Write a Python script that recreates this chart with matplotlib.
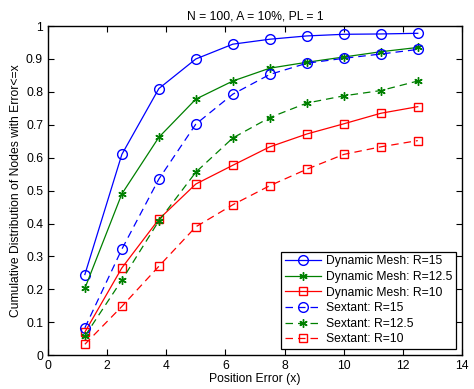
import matplotlib
matplotlib.use("Agg")
import matplotlib.pyplot as plt

plt.rcParams['font.family'] = ['Liberation Sans', 'DejaVu Sans']

x = [1.25, 2.5, 3.75, 5, 6.25, 7.5, 8.75, 10, 11.25, 12.5]
dm15 = [0.245, 0.61, 0.81, 0.90, 0.945, 0.96, 0.97, 0.975, 0.976, 0.978]
dm125 = [0.203, 0.49, 0.662, 0.778, 0.833, 0.872, 0.89, 0.906, 0.922, 0.935]
dm10 = [0.07, 0.265, 0.413, 0.52, 0.577, 0.633, 0.672, 0.703, 0.735, 0.755]
sx15 = [0.083, 0.322, 0.535, 0.702, 0.793, 0.853, 0.887, 0.902, 0.915, 0.929]
sx125 = [0.058, 0.228, 0.408, 0.556, 0.66, 0.722, 0.766, 0.788, 0.804, 0.833]
sx10 = [0.033, 0.148, 0.27, 0.39, 0.457, 0.515, 0.565, 0.61, 0.633, 0.652]
labels = ["Dynamic Mesh: R=15", "Dynamic Mesh: R=12.5", "Dynamic Mesh: R=10",
          "Sextant: R=15", "Sextant: R=12.5", "Sextant: R=10"]

fig = plt.figure(figsize=(4.74, 3.89), dpi=100)
ax = fig.add_axes([0.101, 0.087, 0.874, 0.846])

blue, green, red = (0, 0, 1), (0, 0.5, 0), (1, 0, 0)
ast = (6, 2, 0)
dash = (0, (6, 4))
series = [(dm15, blue, 'o', '-'), (dm125, green, ast, '-'), (dm10, red, 's', '-'),
          (sx15, blue, 'o', dash), (sx125, green, ast, dash), (sx10, red, 's', dash)]
for (y, c, m, ls), lab in zip(series, labels):
    ms = {'o': 7, 's': 6}.get(m, 6) if isinstance(m, str) else 6
    ax.plot(x, y, color=c, marker=m, linestyle=ls, linewidth=0.9,
            markersize=ms, markerfacecolor='none',
            markeredgecolor=c, markeredgewidth=1.0, label=lab)

fs = 8.7
ax.set_xlim(0, 14)
ax.set_ylim(0, 1)
ax.set_xticks(range(0, 15, 2))
ax.set_yticks([i / 10 for i in range(11)])
ax.set_yticklabels(['0'] + ['%.1f' % (i / 10) for i in range(1, 10)] + ['1'])
ax.tick_params(direction='in', top=True, right=True, labelsize=fs, length=4)
for s in ax.spines.values():
    s.set_linewidth(1.0)
ax.set_xlabel('Position Error (x)', fontsize=fs, labelpad=1)
ax.set_ylabel('Cumulative Distribution of Nodes with Error<=x', fontsize=fs, labelpad=3)
ax.set_title('N = 100, A = 10%, PL = 1', fontsize=fs, pad=5)
leg = ax.legend(loc='lower right', fontsize=fs, fancybox=False, edgecolor='black',
                framealpha=1, borderaxespad=0.5, handlelength=3, labelspacing=0.3,
                borderpad=0.3, handletextpad=0.4)
leg.get_frame().set_linewidth(0.9)
fig.savefig('out.png', dpi=100)
